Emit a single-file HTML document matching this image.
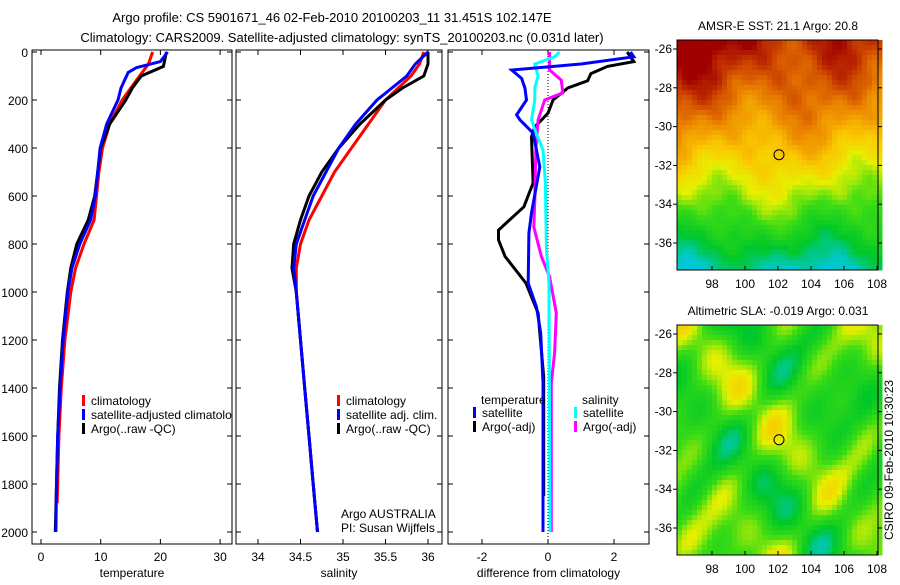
<!DOCTYPE html>
<html><head><meta charset="utf-8"><style>
body{margin:0;background:#fff;}
svg text{font-family:"Liberation Sans",sans-serif;font-size:12px;fill:#000;}
</style></head><body>
<svg id="fig" width="900" height="580" viewBox="0 0 900 580">
<defs>
<clipPath id="c1"><rect x="32" y="50" width="200" height="494"/></clipPath>
<clipPath id="c2"><rect x="236" y="50" width="206" height="494"/></clipPath>
<clipPath id="c3"><rect x="448" y="50" width="201" height="494"/></clipPath>
</defs>
<text x="332" y="22" text-anchor="middle" style="font-size:13px">Argo profile: CS 5901671_46 02-Feb-2010 20100203_11 31.451S 102.147E</text>
<text x="342" y="42" text-anchor="middle" style="font-size:13px">Climatology: CARS2009. Satellite-adjusted climatology: synTS_20100203.nc (0.031d later)</text>
<g id="plots"></g>
</svg>
<script>
// ---- data ----
const tClimD=[0,50,100,200,300,400,500,600,700,800,900,1000,1200,1400,1600,1800,1880];
const tClimV=[18.7,18,16.5,13.6,11.5,10.3,9.7,9.3,8.9,7.2,5.8,5.0,4.0,3.4,3.0,2.8,2.7];
const tSatD=[0,40,65,85,150,200,300,400,500,600,700,800,900,1000,1200,1400,1600,1800,2000];
const tSatV=[21.2,20,16,14.6,13.4,12.9,11,9.9,9.5,9.1,8.3,6.5,5.2,4.5,3.7,3.2,2.8,2.6,2.5];
const tArgD=[0,60,100,150,200,300,400,500,600,700,800,900,1000,1200,1400,1600,1800,2000];
const tArgV=[21,20.5,16.8,15.3,14.2,11.5,10,9.5,9,7.9,6,5,4.4,3.6,3.1,2.8,2.6,2.4];
const sClimD=[0,50,100,200,300,400,500,600,700,800,900,1000,1200,1400,1600,1800,2000];
const sClimV=[35.95,35.9,35.8,35.5,35.3,35.1,34.9,34.75,34.6,34.5,34.45,34.45,34.5,34.55,34.6,34.65,34.7];
const sSatD=[0,50,100,200,300,400,500,600,700,800,900,1000,1200,1400,1600,1800,2000];
const sSatV=[36,35.85,35.75,35.4,35.15,34.95,34.8,34.65,34.55,34.45,34.42,34.45,34.5,34.55,34.6,34.65,34.7];
const sArgD=[0,50,100,150,200,300,400,500,600,700,800,900,1000,1200,1400,1600,1800,2000];
const sArgV=[36,36,35.95,35.7,35.5,35.2,34.95,34.75,34.6,34.5,34.42,34.4,34.45,34.5,34.55,34.6,34.65,34.7];
const dTSatD=[0,20,50,75,110,150,200,262,283,338,479,671,754,963,1063,1170,1379,2000];
const dTSatV=[2.5,2.6,1,-1.1,-0.8,-0.7,-0.65,-0.95,-0.85,-0.45,-0.25,-0.5,-0.58,-0.6,-0.35,-0.22,-0.15,-0.15];
const dTArgD=[0,40,60,90,120,150,200,255,312,354,546,645,742,783,852,963,1088,1354,1850];
const dTArgV=[2.4,2.6,1.8,1.3,1.2,0.6,0.15,0,-0.4,-0.5,-0.45,-0.73,-1.5,-1.5,-1.3,-0.67,-0.3,-0.13,-0.13];
const dSSatD=[0,20,50,100,150,200,283,338,408,546,820,963,2000];
const dSSatV=[0.35,0.2,-0.4,-0.3,-0.4,-0.4,-0.5,-0.36,-0.15,-0.08,-0.05,0.03,0.06];
const dSArgD=[0,75,117,170,200,283,408,617,729,852,937,1088,1254,1379,2000];
const dSArgV=[0.05,0.05,0.4,0.45,-0.1,-0.3,-0.37,-0.4,-0.43,-0.2,0.05,0.25,0.2,0.1,0.1];
const depthTicks=[0,200,400,600,800,1000,1200,1400,1600,1800,2000];
const tTicks=[0,10,20,30];
const sTicks=[34,34.5,35,35.5,36];
const dTicks=[-2,0,2];
const latTicks=[-26,-28,-30,-32,-34,-36];
const lonTicks=[98,100,102,104,106,108];
// ---- scales ----
const yD=d=>52+d*0.24;
const xT=v=>41+v*5.97;
const xS=v=>258+(v-34)*85;
const xDf=v=>548+v*33;
const NS='http://www.w3.org/2000/svg';
const G=document.getElementById('plots');
function el(t,a,p){const e=document.createElementNS(NS,t);for(const k in a)e.setAttribute(k,a[k]);(p||G).appendChild(e);return e;}
function txt(x,y,s,anchor,p){const e=el('text',{x:x,y:y,'text-anchor':anchor||'start'},p);e.textContent=s;return e;}
function line(D,V,xf,col,clip,name){
  const pts=D.map((d,i)=>xf(V[i]).toFixed(1)+','+yD(d).toFixed(1)).join(' ');
  const e=el('polyline',{points:pts,fill:'none',stroke:col,'stroke-width':3,'clip-path':'url(#'+clip+')'});
  
  
}
function panel(x0,w,ticks,xf,xlabel,leftLabels,name){
  const b=el('rect',{x:x0,y:50,width:w,height:494,fill:'none',stroke:'#000'});
  
  
  depthTicks.forEach(d=>{el('line',{x1:x0,x2:x0+5,y1:yD(d),y2:yD(d),stroke:'#000'});el('line',{x1:x0+w-5,x2:x0+w,y1:yD(d),y2:yD(d),stroke:'#000'});
    if(leftLabels)txt(x0-4,yD(d)+5,String(d),'end');});
  ticks.forEach(t=>{const x=xf(t);el('line',{x1:x,x2:x,y1:544,y2:539,stroke:'#000'});el('line',{x1:x,x2:x,y1:50,y2:55,stroke:'#000'});
    txt(x,561,String(t),'middle');});
  const l=txt(x0+w/2,577,xlabel,'middle');
  
  
}
panel(32,200,tTicks,xT,'temperature',true,'temperature-panel');
panel(236,206,sTicks,xS,'salinity',false,'salinity-panel');
panel(448,201,dTicks,xDf,'difference from climatology',false,'difference-panel');
el('line',{x1:548,x2:548,y1:50,y2:544,stroke:'#000','stroke-dasharray':'1,2'});
line(tClimD,tClimV,xT,'#f00','c1','temp-climatology-line');
line(tArgD,tArgV,xT,'#000','c1','temp-argo-line');
line(tSatD,tSatV,xT,'#00f','c1','temp-satellite-line');
line(sClimD,sClimV,xS,'#f00','c2','sal-climatology-line');
line(sArgD,sArgV,xS,'#000','c2','sal-argo-line');
line(sSatD,sSatV,xS,'#00f','c2','sal-satellite-line');
line(dTArgD,dTArgV,xDf,'#000','c3','diff-temp-argo-line');
line(dSArgD,dSArgV,xDf,'#f0f','c3','diff-sal-argo-line');
line(dSSatD,dSSatV,xDf,'#0ff','c3','diff-sal-satellite-line');
line(dTSatD,dTSatV,xDf,'#00f','c3','diff-temp-satellite-line');
function leg(x,y,col,s,clip,name){const g=el('g',{'clip-path':clip?'url(#'+clip+')':''});
  
  el('rect',{x:x,y:y-10,width:3,height:11,fill:col},g);txt(x+9,y,s,'start',g);}
leg(82,405,'#f00','climatology','c1','legend-climatology');
leg(82,419,'#00f','satellite-adjusted climatology','c1','legend-satellite');
leg(82,433,'#000','Argo(..raw -QC)','c1','legend-argo');
leg(337,405,'#f00','climatology','c2','legend2-climatology');
leg(337,419,'#00f','satellite adj. clim.','c2','legend2-satellite');
leg(337,433,'#000','Argo(..raw -QC)','c2','legend2-argo');
txt(481,404,'temperature');txt(582,404,'salinity');
leg(473,417,'#00f','satellite','c3','legend3-temp-satellite');
leg(473,431,'#000','Argo(-adj)','c3','legend3-temp-argo');
leg(574,417,'#0ff','satellite','c3','legend3-sal-satellite');
leg(574,431,'#f0f','Argo(-adj)','c3','legend3-sal-argo');
txt(341,518,'Argo AUSTRALIA');txt(341,532,'PI: Susan Wijffels');
function jet(v){
  const stops=[[0,[0,200,220]],[0.18,[0,200,40]],[0.35,[60,220,20]],[0.5,[230,240,0]],[0.62,[250,200,0]],[0.78,[235,130,0]],[0.9,[200,60,0]],[1,[160,0,0]]];
  for(let i=1;i<stops.length;i++){if(v<=stops[i][0]){const a=stops[i-1],b=stops[i],t=(v-a[0])/(b[0]-a[0]);
    return 'rgb('+a[1].map((c,k)=>Math.round(c+(b[1][k]-c)*t)).join(',')+')';}}
  return 'rgb(160,0,0)';}
function map(y0,fn,name,title){
  const g=el('g',{});
  const cs=5;
  for(let j=0;j<46;j++)for(let i=0;i<41;i++){
    const v=Math.max(0,Math.min(1,fn(i/40,j/45)));
    el('rect',{x:677+i*cs,y:y0+j*cs,width:cs+0.5,height:cs+0.5,fill:jet(v)},g);}
  el('rect',{x:677,y:y0,width:201,height:230,fill:'none',stroke:'#000'},g);
  const yl=l=>y0+9+(-26-l)*19.4;
  latTicks.forEach(l=>{el('line',{x1:673,x2:677,y1:yl(l),y2:yl(l),stroke:'#000'},g);el('line',{x1:878,x2:882,y1:yl(l),y2:yl(l),stroke:'#000'},g);txt(672,yl(l)+4,String(l),'end',g);});
  lonTicks.forEach(l=>{const x=712+(l-98)*16.5;el('line',{x1:x,x2:x,y1:y0+230,y2:y0+226,stroke:'#000'},g);txt(x,y0+248,String(l),'middle',g);});
  el('circle',{cx:779,cy:yl(-31.45),r:5,fill:'none',stroke:'#000'},g);
  txt(778,y0-10,title,'middle',g);
}
map(40,(x,y)=>0.95-0.45*y-0.45*y*y+0.12*(0.5-x)*(1-y)+0.05*Math.sin(x*9+y*5)+0.04*Math.cos(x*17-y*11)+0.025*Math.sin(x*41)*Math.cos(y*37),'sst-map','AMSR-E SST: 21.1 Argo: 20.8');
map(325,(x,y)=>0.33+0.14*Math.sin(x*14+1)*Math.cos(y*12+0.5)+0.1*Math.sin(x*7-y*9+2)+0.06*Math.cos(x*23+y*19),'sla-map','Altimetric SLA: -0.019 Argo: 0.031');
const c=txt(0,0,'CSIRO 09-Feb-2010 10:30:23','middle');
c.setAttribute('transform','translate(893,460) rotate(-90)');


</script>
</body></html>
